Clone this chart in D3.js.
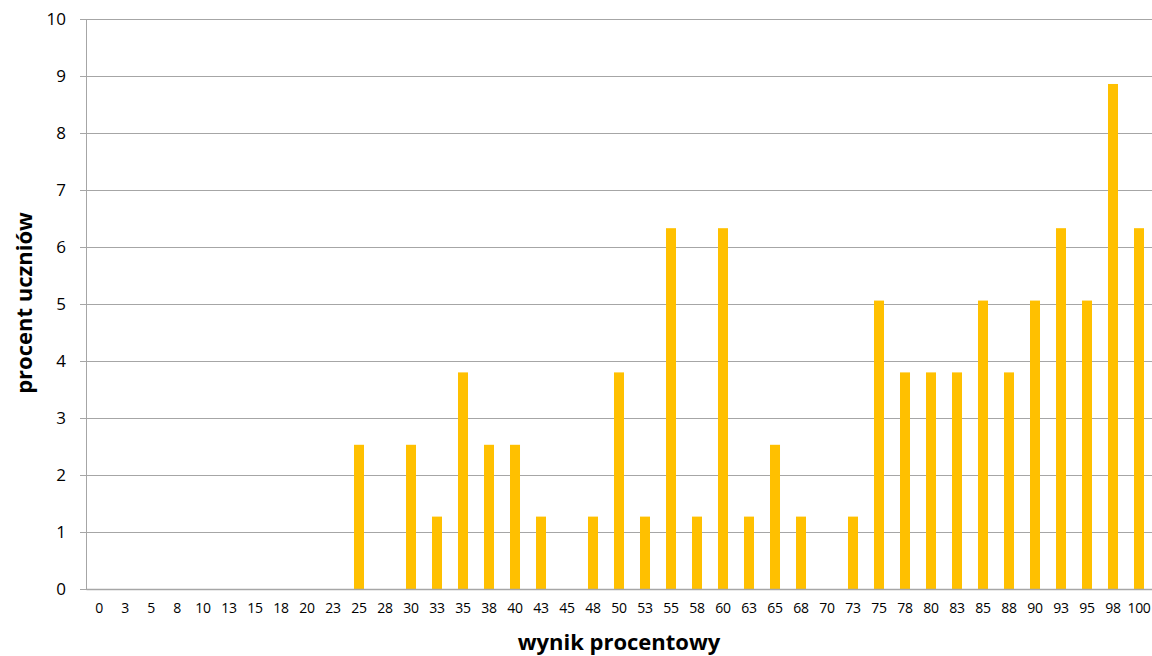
<!DOCTYPE html>
<html>
<head>
<meta charset="utf-8">
<script src="https://cdn.jsdelivr.net/npm/d3@7"></script>
<style>
  html, body { margin: 0; padding: 0; background: #fff; }
  svg { display: block; }
  text { font-family: "Open Sans", "Liberation Sans", sans-serif; fill: #000; }
</style>
</head>
<body>
<script>
// Score categories (percent result) and share of students in each
const categories = ["0","3","5","8","10","13","15","18","20","23","25","28","30","33","35","38","40","43","45","48","50","53","55","58","60","63","65","68","70","73","75","78","80","83","85","88","90","93","95","98","100"];
const values = [0,0,0,0,0,0,0,0,0,0,2.53,0,2.53,1.27,3.80,2.53,2.53,1.27,0,1.27,3.80,1.27,6.33,1.27,6.33,1.27,2.53,1.27,0,1.27,5.06,3.80,3.80,3.80,5.06,3.80,5.06,6.33,5.06,8.86,6.33];
const yTicks = [0,1,2,3,4,5,6,7,8,9,10];
const xTitle = "wynik procentowy";
const yTitle = "procent uczniów";

const W = 1152, H = 656;
const margin = { left: 86, right: 0, top: 19, bottom: 67 };

const svg = d3.select("body").append("svg").attr("width", W).attr("height", H);

const x = d3.scaleBand()
  .domain(categories)
  .range([margin.left, W - margin.right])
  .paddingInner(0.615)
  .paddingOuter(0.3075);

const y = d3.scaleLinear().domain([0, 10]).range([H - margin.bottom, margin.top]);

// horizontal gridlines with small ticks left of the axis
const yAxis = d3.axisLeft(y)
  .tickValues(yTicks)
  .tickSize(-(W - margin.left - margin.right))
  .tickPadding(20)
  .tickFormat(d3.format("d"));

const gy = svg.append("g")
  .attr("transform", `translate(${margin.left},0)`)
  .call(yAxis);
gy.select(".domain").remove();
gy.selectAll(".tick line")
  .attr("x1", -6)
  .attr("stroke", "#a6a6a6")
  .attr("stroke-width", 1)
  .attr("shape-rendering", "crispEdges");
gy.selectAll(".tick text")
  .attr("font-size", 17)
  .attr("x", -20)
  .style("font-family", "'Open Sans', sans-serif");

// bars
svg.append("g").selectAll("rect")
  .data(values)
  .join("rect")
  .attr("x", (d, i) => x(categories[i]))
  .attr("width", x.bandwidth())
  .attr("y", d => y(d))
  .attr("height", d => y(0) - y(d))
  .attr("fill", "#FFC000");

// left axis line
svg.append("line")
  .attr("x1", margin.left).attr("x2", margin.left)
  .attr("y1", y(10)).attr("y2", y(0))
  .attr("stroke", "#a6a6a6")
  .attr("shape-rendering", "crispEdges");

// bottom axis with category labels
const xAxis = d3.axisBottom(x).tickSize(0).tickPadding(14);
const gx = svg.append("g")
  .attr("transform", `translate(0,${y(0)})`)
  .call(xAxis);
gx.select(".domain")
  .attr("stroke", "#a6a6a6")
  .attr("stroke-width", 1.5);
gx.selectAll(".tick text")
  .attr("font-size", 14)
  .attr("letter-spacing", -0.3)
  .style("font-family", "'Open Sans', sans-serif");

// axis titles
svg.append("text")
  .attr("x", 619)
  .attr("y", 650)
  .attr("text-anchor", "middle")
  .attr("font-size", 22)
  .attr("font-weight", "bold")
  .text(xTitle);

svg.append("text")
  .attr("transform", `translate(32,303) rotate(-90)`)
  .attr("text-anchor", "middle")
  .attr("font-size", 22)
  .attr("font-weight", "bold")
  .text(yTitle);
</script>
</body>
</html>
